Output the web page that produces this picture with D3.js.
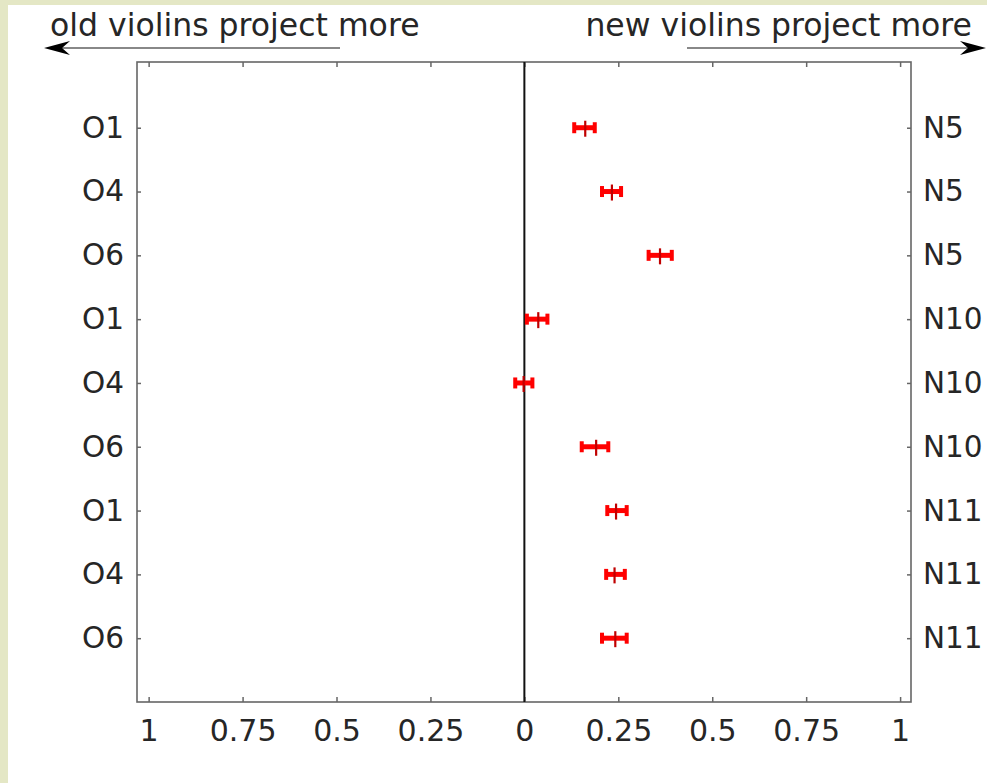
<!DOCTYPE html>
<html><head><meta charset="utf-8">
<script src="https://cdn.jsdelivr.net/npm/d3@7"></script>
<style>
html,body{margin:0;padding:0;background:#e4e7c5;}
svg{display:block;}
text{font-family:"DejaVu Sans",sans-serif;fill:#262626;}
</style></head>
<body>
<svg id="c" width="987" height="783"></svg>
<script>
const leftLabels = ["O1","O4","O6","O1","O4","O6","O1","O4","O6"];
const rightLabels = ["N5","N5","N5","N10","N10","N10","N11","N11","N11"];
const means = [0.162, 0.233, 0.361, 0.037, -0.002, 0.191, 0.244, 0.240, 0.242];
const lower = [0.130, 0.204, 0.328, 0.004, -0.027, 0.150, 0.218, 0.215, 0.204];
const upper = [0.190, 0.260, 0.395, 0.064, 0.024, 0.226, 0.275, 0.270, 0.275];
const xTicks = [-1, -0.75, -0.5, -0.25, 0, 0.25, 0.5, 0.75, 1];
const leftCaption = "old violins project more";
const rightCaption = "new violins project more";

const svg = d3.select("#c");
svg.append("rect").attr("x",8).attr("y",5).attr("width",979).attr("height",778).attr("fill","#fff");

const L=137, R=911, T=62, B=702;
const x = d3.scaleLinear().domain([-1.031,1.029]).range([L,R]);
const y = d3.scaleLinear().domain([-0.03,10]).range([T,B]);
const rows = d3.range(leftLabels.length);
const axisCol = "#666";

// box
svg.append("rect").attr("x",L).attr("y",T).attr("width",R-L).attr("height",B-T)
  .attr("fill","none").attr("stroke",axisCol).attr("stroke-width",1.6);

// x ticks bottom & top (inward)
const fmt = v => String(Math.abs(v));
const gB = svg.append("g").attr("transform",`translate(0,${B})`)
  .call(d3.axisBottom(x).tickValues(xTicks).tickSizeInner(-5).tickSizeOuter(0).tickPadding(18).tickFormat(fmt));
const gT = svg.append("g").attr("transform",`translate(0,${T})`)
  .call(d3.axisTop(x).tickValues(xTicks).tickSizeInner(-5).tickSizeOuter(0).tickFormat(""));
[gB,gT].forEach(g=>{
  g.select(".domain").remove();
  g.selectAll(".tick line").attr("stroke",axisCol).attr("stroke-width",1.5);
  g.selectAll("text").attr("font-size",30).attr("fill","#262626").attr("font-family","DejaVu Sans");
});
gB.selectAll("text").attr("dy","0.71em");

// y ticks left/right (inward)
const gL = svg.append("g").attr("transform",`translate(${L},0)`)
  .call(d3.axisLeft(y).tickValues(rows.map(i=>i+1)).tickSizeInner(-4).tickSizeOuter(0).tickPadding(13).tickFormat(d=>leftLabels[d-1]));
const gR = svg.append("g").attr("transform",`translate(${R},0)`)
  .call(d3.axisRight(y).tickValues(rows.map(i=>i+1)).tickSizeInner(-4).tickSizeOuter(0).tickPadding(12).tickFormat(d=>rightLabels[d-1]));
[gL,gR].forEach(g=>{
  g.select(".domain").remove();
  g.selectAll(".tick line").attr("stroke",axisCol).attr("stroke-width",1.5);
  g.selectAll("text").attr("font-size",29.5).attr("fill","#262626").attr("font-family","DejaVu Sans");
});

// zero line
svg.append("line").attr("x1",x(0)).attr("x2",x(0)).attr("y1",T).attr("y2",B)
  .attr("stroke","#111").attr("stroke-width",2);

// error bars
const eb = svg.append("g").selectAll("g").data(rows).join("g");
eb.append("line").attr("x1",i=>x(lower[i])).attr("x2",i=>x(upper[i]))
  .attr("y1",i=>y(i+1)).attr("y2",i=>y(i+1)).attr("stroke","#f00").attr("stroke-width",5);
eb.append("line").attr("x1",i=>x(lower[i])+1).attr("x2",i=>x(lower[i])+1)
  .attr("y1",i=>y(i+1)-5.5).attr("y2",i=>y(i+1)+5.5).attr("stroke","#f00").attr("stroke-width",4);
eb.append("line").attr("x1",i=>x(upper[i])-1).attr("x2",i=>x(upper[i])-1)
  .attr("y1",i=>y(i+1)-5.5).attr("y2",i=>y(i+1)+5.5).attr("stroke","#f00").attr("stroke-width",4);
eb.append("line").attr("x1",i=>x(means[i])).attr("x2",i=>x(means[i]))
  .attr("y1",i=>y(i+1)-7).attr("y2",i=>y(i+1)+9).attr("stroke","#c00000").attr("stroke-width",2.2);

// captions with arrows
svg.append("text").attr("x",50).attr("y",36).attr("font-size",31.5).text(leftCaption);
svg.append("text").attr("x",972).attr("y",36).attr("font-size",31.5).attr("text-anchor","end").text(rightCaption);
const ay = 48;
svg.append("line").attr("x1",52).attr("x2",340).attr("y1",ay).attr("y2",ay).attr("stroke","#888").attr("stroke-width",2);
svg.append("line").attr("x1",687).attr("x2",976).attr("y1",ay).attr("y2",ay).attr("stroke","#888").attr("stroke-width",2);
svg.append("path").attr("d",`M44,${ay} L70,${ay-7} L62,${ay} L70,${ay+7} Z`).attr("fill","#000");
svg.append("path").attr("d",`M986,${ay} L960,${ay-7} L968,${ay} L960,${ay+7} Z`).attr("fill","#000");
</script>
</body></html>
